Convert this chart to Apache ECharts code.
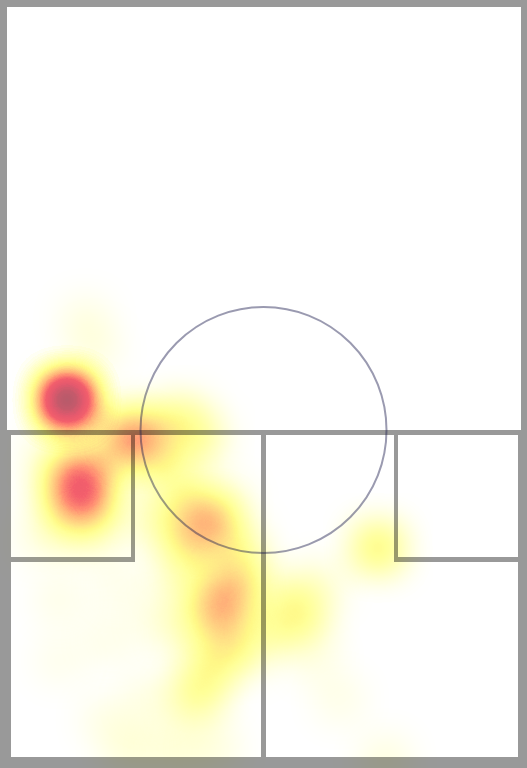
<!DOCTYPE html>
<html>
<head>
<meta charset="utf-8">
<script src="https://cdn.jsdelivr.net/npm/echarts@6/dist/echarts.min.js"></script>
<style>
html,body{margin:0;padding:0;background:#fff;}
#chart{width:527px;height:768px;}
</style>
</head>
<body>
<div id="chart"></div>
<script>
// Event spots on the pitch (pitch units 0..527 x 0..768), weight of each event and number of events
const heatX = [67,
  82, 70, 95, 66, 98, 82, 82, 55, 60, 105, 50, 110, 85,
  135, 160, 115, 185, 200, 150,
  212, 225, 195, 190, 170, 235, 160, 185,
  232, 226, 222, 216, 205, 195, 245, 205, 240, 185, 180, 200,
  290, 305, 275, 320,
  378,
  85, 95, 130, 175, 215, 385, 340, 315, 105, 150, 60, 40, 110, 120, 60, 160];
const heatY = [400,
  487, 475, 500, 500, 474, 510, 465, 480, 520, 520, 450, 450, 535,
  440, 425, 425, 420, 440, 460,
  522, 505, 525, 500, 470, 545, 520, 545,
  592, 625, 610, 655, 680, 700, 570, 605, 650, 630, 580, 560,
  600, 620, 630, 585,
  548,
  320, 350, 748, 750, 748, 760, 700, 660, 720, 700, 600, 540, 640, 585, 660, 620];
const heatW = [1,
  1, 1, 1, 1, 1, 1, 1, 0.6, 0.6, 0.5, 0.4, 0.5, 0.5,
  1, 1, 1, 1, 1, 0.6,
  1, 0.6, 0.8, 1, 1, 1, 1, 1,
  1, 1, 1, 1, 1, 1, 1, 1, 1, 0.6, 0.6, 0.7,
  1, 1, 1, 0.5,
  1,
  0.35, 0.35, 0.5, 0.5, 0.4, 0.4, 0.3, 0.3, 0.3, 0.4, 0.3, 0.3, 0.3, 0.3, 0.25, 0.35];
const heatN = [10,
  2, 1, 1, 1, 1, 1, 1, 1, 1, 1, 1, 1, 1,
  3, 1, 1, 1, 1, 1,
  2, 1, 1, 1, 1, 1, 1, 1,
  2, 1, 1, 1, 1, 1, 1, 1, 1, 1, 1, 1,
  1, 1, 1, 1,
  2,
  1, 1, 1, 1, 1, 1, 1, 1, 1, 1, 1, 1, 1, 1, 1, 1];

const heatColors = ['#ffff00','#ffff00','#ffff00','#ffff00','#ffff00','#ffff00','#ffff00','#fff000',
  '#ffd020','#ffb030','#ff9038','#ff6040','#f03848','#e04058','#b05060','#506070'];

const pitchSvg = '<svg xmlns="http://www.w3.org/2000/svg" width="527" height="768" viewBox="0 0 527 768"><rect x="0" y="0" width="527" height="768" fill="none" stroke="none"/></svg>';
echarts.registerMap('pitch', { svg: pitchSvg });

const heatData = [];
heatX.forEach(function (x, i) {
  for (let k = 0; k < heatN[i]; k++) heatData.push([x, heatY[i], heatW[i]]);
});

// pitch markings: non-overlapping rectangles [x0, y0, x1, y1]
const pitchRects = [
  [0, 0, 527, 7], [0, 7, 7, 430], [521, 7, 527, 430], [0, 430, 527, 435],
  [0, 435, 11, 757], [518, 435, 527, 757], [0, 757, 527, 768],
  [131, 435, 135, 557], [11, 557, 135, 562],
  [261, 435, 266, 757],
  [394, 435, 398, 557], [394, 557, 518, 562]
];
const lineColor = 'rgba(0,0,0,0.4)';
const graphics = pitchRects.map(function (r) {
  return {
    type: 'rect', z: 100, silent: true,
    shape: { x: r[0], y: r[1], width: r[2] - r[0], height: r[3] - r[1] },
    style: { fill: lineColor }
  };
});
graphics.push({
  type: 'circle', z: 101, silent: true,
  shape: { cx: 263.5, cy: 430, r: 123 },
  style: { fill: null, stroke: 'rgba(30,30,80,0.45)', lineWidth: 2 }
});

const chart = echarts.init(document.getElementById('chart'), null, { renderer: 'canvas' });
chart.setOption({
  backgroundColor: '#ffffff',
  animation: false,
  geo: {
    map: 'pitch',
    roam: false,
    silent: true,
    aspectScale: 1,
    left: 0, top: 0, right: 0, bottom: 0,
    itemStyle: { areaColor: 'transparent', borderWidth: 0, color: 'transparent' },
    emphasis: { disabled: true },
    label: { show: false }
  },
  visualMap: {
    show: false,
    type: 'continuous',
    min: 0,
    max: 1,
    seriesIndex: 0,
    inRange: { color: heatColors }
  },
  series: [{
    type: 'heatmap',
    coordinateSystem: 'geo',
    pointSize: 15,
    blurSize: 40,
    data: heatData
  }],
  graphic: graphics
});
</script>
</body>
</html>
